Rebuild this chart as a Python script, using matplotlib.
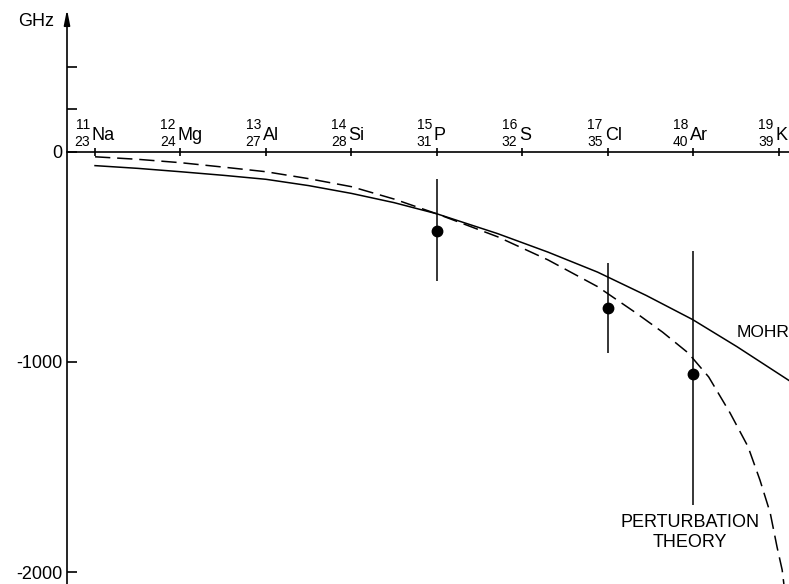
import matplotlib.pyplot as plt

plt.rcParams['font.family'] = ['Liberation Sans', 'DejaVu Sans']

# elements along the zero line
symbols = ['Na', 'Mg', 'Al', 'Si', 'P', 'S', 'Cl', 'Ar', 'K']
z_numbers = [11, 12, 13, 14, 15, 16, 17, 18, 19]
mass_numbers = [23, 24, 27, 28, 31, 32, 35, 40, 39]

# measured shifts (GHz) with asymmetric error bars
meas_z = [15, 17, 18]
meas_shift = [-376, -743, -1057]
err_up = [245, 213, 586]
err_down = [239, 213, 622]

# MOHR curve
mohr_z = [11.0, 11.5, 12.0, 12.5, 13.0, 13.5, 14.0, 14.5, 15.0, 15.71, 16.30,
          16.88, 17.45, 17.99, 18.51, 19.12]
mohr_shift = [-67, -80, -96, -113, -132, -162, -199, -243, -296, -390, -478,
              -573, -684, -798, -927, -1088]

# perturbation theory curve
pert_z = [11.0, 11.5, 12.0, 12.5, 13.0, 13.5, 14.0, 14.5, 15.0, 15.71, 16.30,
          16.88, 17.33, 17.64, 17.94, 18.18, 18.43, 18.64, 18.78, 18.90, 18.98,
          19.04, 19.06]
pert_shift = [-25, -37, -53, -74, -96, -129, -167, -226, -296, -405, -515,
              -642, -767, -858, -957, -1071, -1242, -1402, -1561, -1717, -1879,
              -1988, -2055]

yticks = [400, 200, 0, -1000, -2000]
ytick_labels = ['', '', '0', '-1000', '-2000']

fig = plt.figure(figsize=(7.89, 5.84), dpi=100)
ax = fig.add_axes([0, 0, 1, 1])
ax.set_xlim(9.888, 19.12)
ax.set_ylim(-2055, 720)

y_axis_x = 10.672
ax.spines['top'].set_visible(False)
ax.spines['right'].set_visible(False)
ax.spines['left'].set_position(('data', y_axis_x))
ax.spines['bottom'].set_position(('data', 0))
ax.spines['left'].set_bounds(-2055, 650)
ax.spines['bottom'].set_bounds(y_axis_x, 19.12)
for s in ('left', 'bottom'):
    ax.spines[s].set_linewidth(1.2)

ax.set_yticks(yticks)
ax.set_yticklabels(ytick_labels)
ax.tick_params(axis='y', direction='in', length=7, width=1.2, pad=3, labelsize=13)
ax.set_xticks(z_numbers)
ax.set_xticklabels([])
ax.tick_params(axis='x', direction='inout', length=6, width=1.2)

# arrow head on the y axis
ax.annotate('', xy=(y_axis_x, 675), xytext=(y_axis_x, 600),
            arrowprops=dict(arrowstyle='-|>,head_length=0.9,head_width=0.18',
                            lw=1.2, color='black', shrinkA=0, shrinkB=0))
fig.text(18 / 789, 1 - 26 / 584, 'GHz', fontsize=13, va='baseline')

# element labels with Z above and mass number below
for z, sym, a in zip(z_numbers, symbols, mass_numbers):
    ax.annotate(sym, xy=(z, 0), xytext=(-2.2, 8.6), textcoords='offset points',
                ha='left', va='baseline', fontsize=13)
    ax.annotate(str(z), xy=(z, 0), xytext=(-3.6, 16.2), textcoords='offset points',
                ha='right', va='baseline', fontsize=10)
    ax.annotate(str(a), xy=(z, 0), xytext=(-3.6, 4.0), textcoords='offset points',
                ha='right', va='baseline', fontsize=10)

ax.plot(mohr_z, mohr_shift, color='black', lw=1.1)
ax.plot(pert_z, pert_shift, color='black', lw=1.1, dashes=(10, 4.5))

ax.errorbar(meas_z, meas_shift, yerr=[err_down, err_up], fmt='o', color='black',
            markersize=7.5, elinewidth=1.1, capsize=0)

fig.text(737 / 789, 1 - 337 / 584, 'MOHR', fontsize=12.5, va='baseline')
fig.text(690 / 789, 1 - 527 / 584, 'PERTURBATION', fontsize=13, ha='center', va='baseline')
fig.text(690 / 789, 1 - 547 / 584, 'THEORY', fontsize=13, ha='center', va='baseline')

fig.savefig('out.png', dpi=100)
